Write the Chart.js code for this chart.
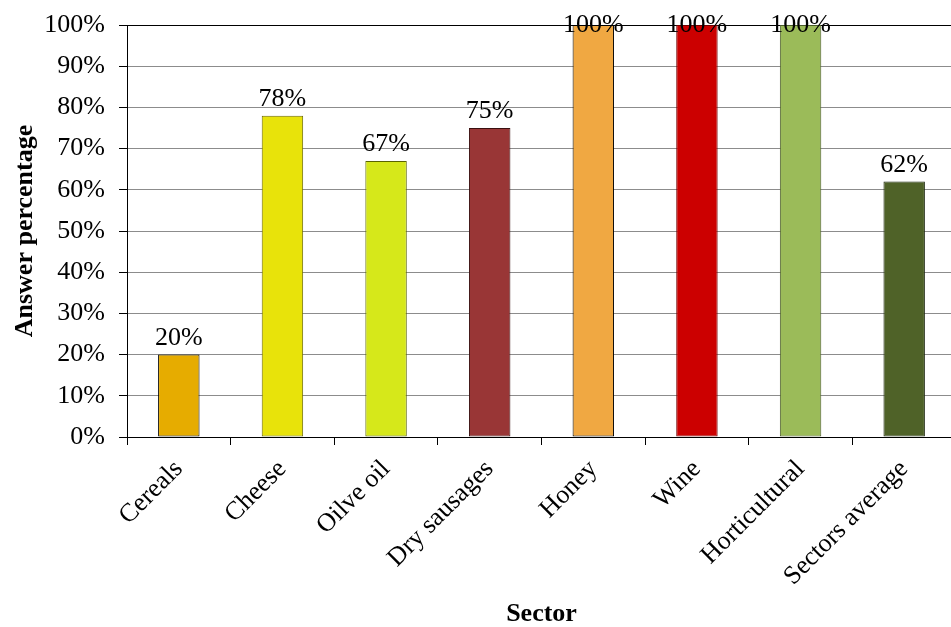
<!DOCTYPE html>
<html>
<head>
<meta charset="utf-8">
<script src="https://cdn.jsdelivr.net/npm/chart.js@4/dist/chart.umd.min.js"></script>
<style>
html,body{margin:0;padding:0;overflow:hidden;background:#fff;}
#wrap{position:relative;width:960px;height:627px;}
</style>
</head>
<body>
<div id="wrap"><canvas id="c"></canvas></div>
<script>
const categories = ['Cereals','Cheese','Oilve oil','Dry sausages','Honey','Wine','Horticultural','Sectors average'];
const values = [20, 78, 67, 75, 100, 100, 100, 62];
const barColors = ['#E6AC00','#E8E30A','#D6E81A','#993636','#F0A842','#CC0000','#9BBB59','#4F6228'];
const barBorders = ['#000000','#6b6800','#5a6400','#3a1010','#000000','#700000','#4a5a2a','#1f2a10'];
const yTicks = [0,10,20,30,40,50,60,70,80,90,100];

const FONT = "'Liberation Serif', 'Times New Roman', serif";

const labelPlugin = {
  id: 'barLabels',
  afterDatasetsDraw(chart) {
    const ctx = chart.ctx;
    const meta = chart.getDatasetMeta(0);
    ctx.save();
    ctx.font = '26px ' + FONT;
    ctx.fillStyle = '#000';
    ctx.textAlign = 'center';
    ctx.textBaseline = 'alphabetic';
    meta.data.forEach((bar, i) => {
      const y = Math.max(bar.y - 10, chart.chartArea.top + 7);
      ctx.fillText(values[i] + '%', bar.x, y);
    });
    ctx.restore();
  }
};

new Chart(document.getElementById('c'), {
  type: 'bar',
  data: {
    labels: categories,
    datasets: [{
      data: values,
      backgroundColor: barColors,
      borderColor: barBorders,
      borderWidth: 1,
      borderSkipped: false,
      categoryPercentage: 1,
      barPercentage: 0.4
    }]
  },
  options: {
    responsive: true,
    maintainAspectRatio: false,
    animation: false,
    layout: { padding: { top: 25, right: 4, left: 0, bottom: 0 } },
    plugins: { legend: { display: false }, tooltip: { enabled: false } },
    scales: {
      x: {
        grid: { display: true, drawOnChartArea: false, drawTicks: true, tickLength: 8, tickColor: '#000', offset: true },
        border: { display: true, color: '#000', width: 1 },
        ticks: { color: '#000', font: { family: FONT, size: 26 }, minRotation: 45, maxRotation: 45, autoSkip: false, padding: 9 },
        title: { display: true, text: 'Sector', color: '#000', font: { family: FONT, size: 26, weight: 'bold', lineHeight: 1.0 }, padding: { top: 0, bottom: 0 } },
        afterFit(scale) { scale.height = 190; }
      },
      y: {
        min: 0, max: 100,
        afterBuildTicks(scale) { scale.ticks = yTicks.map(v => ({ value: v })); },
        grid: {
          color: ctx => (ctx.tick && ctx.tick.value === 100) ? '#000' : '#8c8c8c',
          lineWidth: 1, tickLength: 8, tickColor: '#000'
        },
        border: { display: true, color: '#000', width: 1 },
        ticks: { color: '#000', font: { family: FONT, size: 26, lineHeight: 1.0 }, padding: 14, callback: v => v + '%' },
        title: { display: true, text: 'Answer percentage', color: '#000', font: { family: FONT, size: 26, weight: 'bold' }, padding: { top: 10, bottom: 0 } },
        afterFit(scale) { scale.width = 127; scale.paddingTop = 0; scale.paddingBottom = 0; }
      }
    }
  },
  plugins: [labelPlugin]
});
</script>
</body>
</html>
